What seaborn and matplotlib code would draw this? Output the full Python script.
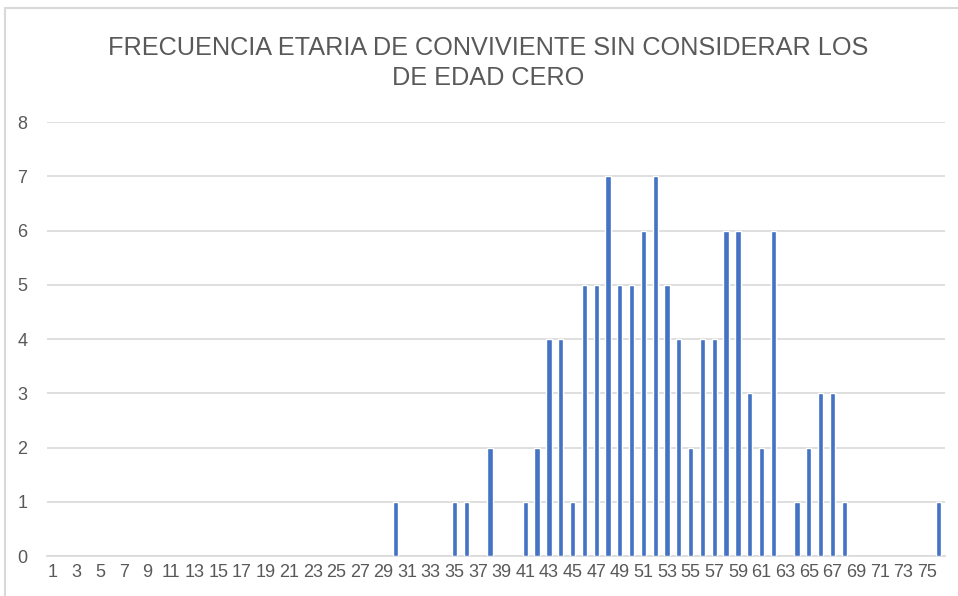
import numpy as np
import matplotlib
matplotlib.use('Agg')
import matplotlib.pyplot as plt
from matplotlib.patches import Rectangle
import seaborn as sns
import pandas as pd

# edades con frecuencia distinta de cero (eje 1..76)
edades = [30, 35, 36, 38, 41, 42, 43, 44, 45, 46, 47, 48, 49, 50, 51, 52, 53,
          54, 55, 56, 57, 58, 59, 60, 61, 62, 64, 65, 66, 67, 68, 76]
frecuencia = [1, 1, 1, 2, 1, 2, 4, 4, 1, 5, 5, 7, 5, 5, 6, 7, 5,
              4, 2, 4, 4, 6, 6, 3, 2, 6, 1, 2, 3, 3, 1, 1]
categorias = list(range(1, 77))
etiquetas_x = [str(c) if c % 2 == 1 else '' for c in categorias]
titulo = 'FRECUENCIA ETARIA DE CONVIVIENTE SIN CONSIDERAR LOS\nDE EDAD CERO'

df = pd.DataFrame({'Edad': edades, 'Frecuencia': frecuencia})

sns.set_theme(style='white')
plt.rcParams['font.family'] = ['Liberation Sans Narrow', 'Liberation Sans', 'DejaVu Sans']

gris = '#595959'
gris_linea = '#D9D9D9'

fig = plt.figure(figsize=(9.58, 5.96), dpi=100)
ax = fig.add_axes([0.049, 0.067, 0.937, 0.728])

sns.barplot(x='Edad', y='Frecuencia', data=df, order=categorias,
            color='#4472C4', saturation=1, width=0.45, ax=ax, zorder=3)

ax.set_ylim(0, 8)
ax.set_xlim(-0.5, len(categorias) - 0.5)
ax.set_yticks(np.arange(0, 9, 1))
ax.yaxis.grid(True, color=gris_linea, linewidth=1.2, zorder=0)
ax.set_axisbelow(True)
ax.set_xticks(range(len(categorias)))
ax.set_xticklabels(etiquetas_x)
ax.tick_params(axis='both', length=0, colors=gris, labelsize=13)
ax.tick_params(axis='x', pad=6)
ax.tick_params(axis='y', pad=14)
ax.set_xlabel('')
ax.set_ylabel('')
for s in ['top', 'right', 'left']:
    ax.spines[s].set_visible(False)
ax.spines['bottom'].set_color(gris_linea)
ax.spines['bottom'].set_linewidth(1.2)

fig.text(0.51, 0.894, titulo, ha='center', va='center', fontsize=18.2,
         color=gris, linespacing=1.3)

# borde del grafico
fig.patches.append(Rectangle((5 / 958, -0.1), 1.2, 0.1 + (1 - 8 / 596),
                             transform=fig.transFigure, fill=False,
                             edgecolor=gris_linea, linewidth=1.5))

plt.savefig('out.png', dpi=100)
plt.close()
